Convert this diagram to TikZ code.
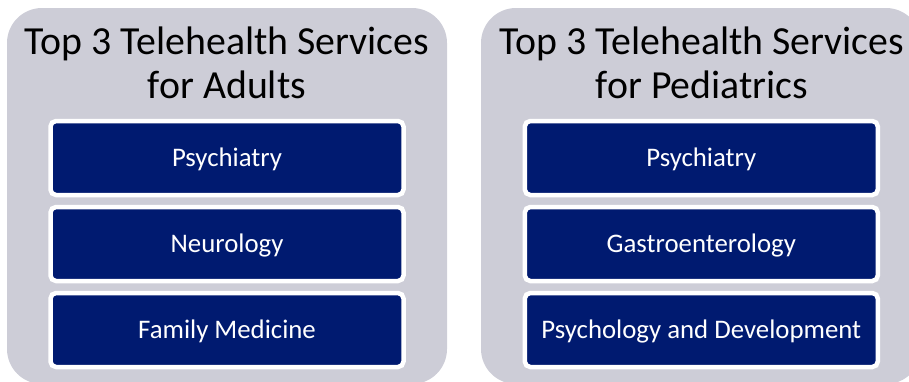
\documentclass[tikz,border=0pt]{standalone}
\usepackage{fontspec}
\setmainfont{Carlito}
\definecolor{panelgrey}{RGB}{205,205,215}
\definecolor{navy}{RGB}{0,26,112}
\begin{document}
\begin{tikzpicture}[x=1pt,y=1pt,
  panel/.style={fill=panelgrey, draw=none, rounded corners=35pt,
    minimum width=440pt, minimum height=376pt, inner sep=0pt},
  heading/.style={anchor=base, align=center, inner sep=0pt, text=black,
    font=\fontsize{39.8}{44}\selectfont},
  svcbox/.style={fill=navy, draw=white, line width=4.5pt, rounded corners=5.5pt,
    minimum width=353pt, minimum height=74pt, inner sep=0pt,
    text=white, text height=17pt, text depth=0pt,
    font=\fontsize{26.8}{30}\selectfont}]
  \useasboundingbox (0,0) rectangle (909,-381);
  \clip (0,0) rectangle (909,-381);

  % background panels
  \node[panel] (adults) at (227,-196) {};
  \node[panel] (peds) at (701,-196) {};

  % headings (base anchor sits on the second line)
  \node[heading] (adultsTitle) at (227,-98) {Top 3 Telehealth Services\\for Adults};
  \node[heading] (pedsTitle) at (702,-98) {Top 3 Telehealth Services\\for Pediatrics};

  % adult services
  \node[svcbox] (a1) at (227,-158) {Psychiatry};
  \node[svcbox] (a2) at (227,-244) {Neurology};
  \node[svcbox] (a3) at (227,-330) {Family Medicine};

  % pediatric services
  \node[svcbox] (p1) at (701.3,-158) {Psychiatry};
  \node[svcbox] (p2) at (701.3,-244) {Gastroenterology};
  \node[svcbox] (p3) at (701.3,-330) {Psychology and Development};
\end{tikzpicture}
\end{document}
